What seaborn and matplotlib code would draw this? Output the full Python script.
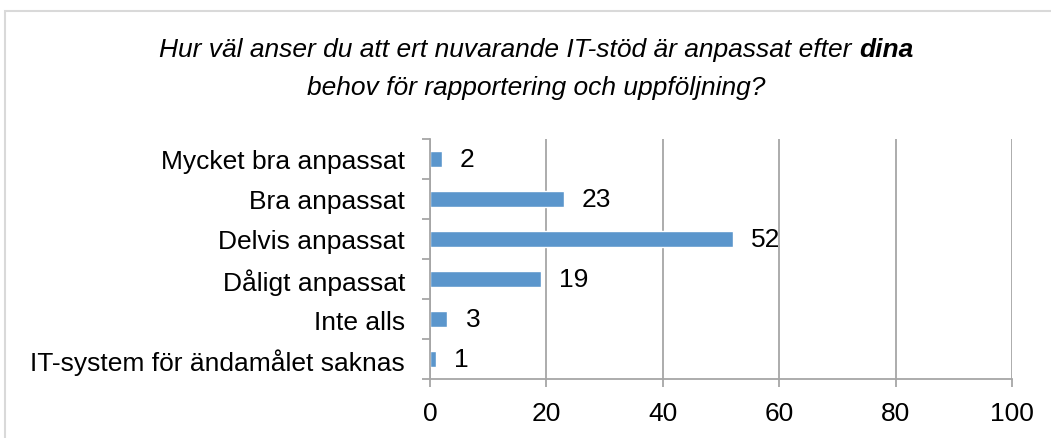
import matplotlib
matplotlib.use("Agg")
import matplotlib.pyplot as plt
import seaborn as sns
import pandas as pd
import numpy as np
from matplotlib.patches import Rectangle

categories = [
    "Mycket bra anpassat",
    "Bra anpassat",
    "Delvis anpassat",
    "Dåligt anpassat",
    "Inte alls",
    "IT-system för ändamålet saknas",
]
values = [2, 23, 52, 19, 3, 1]
x_ticks = [0, 20, 40, 60, 80, 100]

title_line1 = "Hur väl anser du att ert nuvarande IT-stöd är anpassat efter "
title_bold = "dina"
title_line2 = "behov för rapportering och uppföljning?"

sns.set_theme(style="white")
plt.rcParams["font.family"] = ["Liberation Sans", "DejaVu Sans"]

df = pd.DataFrame({"kategori": categories, "antal": values})

fig = plt.figure(figsize=(10.51, 4.39), dpi=100)
ax = fig.add_axes([430 / 1051, 1 - 380 / 439, 582 / 1051, 240 / 439])

sns.barplot(data=df, x="antal", y="kategori", color="#5B96CC", width=0.42,
            saturation=1, ax=ax, orient="h")

ax.set_xlim(0, 100)
ax.set_ylim(len(categories) - 0.5, -0.5)
ax.set_xticks(x_ticks)
ax.set_xlabel("")
ax.set_ylabel("")
ax.grid(axis="x", color="#A6A6A6", linewidth=1.3)
ax.set_axisbelow(True)

grey = "#A6A6A6"
for side in ["top", "right"]:
    ax.spines[side].set_visible(False)
for side in ["left", "bottom"]:
    ax.spines[side].set_color(grey)
    ax.spines[side].set_linewidth(1.3)

fs = 19
ax.tick_params(axis="x", bottom=True, direction="out", length=6, width=1.3,
               color=grey, labelsize=fs, pad=10, labelcolor="black")
ax.set_yticks(np.arange(-0.5, len(categories), 1.0), minor=True)
ax.tick_params(axis="y", which="major", left=False, length=0, labelsize=fs,
               pad=18, labelcolor="black")
ax.tick_params(axis="y", which="minor", left=True, direction="out", length=6,
               width=1.3, color=grey)

for cont in ax.containers:
    ax.bar_label(cont, labels=[str(v) for v in values], padding=13,
                 fontsize=fs, color="black")

# chart border
fig.patches.append(Rectangle((5 / 1051, -0.1), 1.2, 1 - 12 / 439 + 0.1,
                             transform=fig.transFigure, fill=False,
                             edgecolor="#D9D9D9", linewidth=1.5))

# title with bold word
cx = 536 / 1051
t1 = fig.text(0, 1 - 50 / 439, title_line1, fontsize=fs, style="italic",
              ha="left", va="center", color="black")
t2 = fig.text(0, 1 - 50 / 439, title_bold, fontsize=fs, style="italic",
              weight="bold", ha="left", va="center", color="black")
fig.canvas.draw()
r = fig.canvas.get_renderer()
w1 = t1.get_window_extent(r).width
w2 = t2.get_window_extent(r).width
start = cx * 1051 - (w1 + w2) / 2
t1.set_x(start / 1051)
t2.set_x((start + w1) / 1051)
fig.text(cx, 1 - 88 / 439, title_line2, fontsize=fs, style="italic",
         ha="center", va="center", color="black")

fig.savefig("out.png", dpi=100)
